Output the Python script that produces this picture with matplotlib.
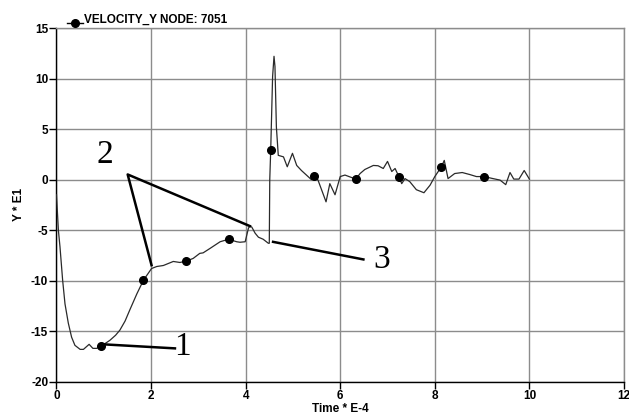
import numpy as np
import matplotlib
matplotlib.use("Agg")
import matplotlib.pyplot as plt
from matplotlib.lines import Line2D

# curva velocita' (tempo * E-4, velocita' * E1)
t = [0.0, 0.04, 0.074, 0.13, 0.18, 0.25, 0.32, 0.39, 0.50, 0.57, 0.69, 0.77, 0.85, 0.94,
     1.13, 1.25, 1.34, 1.45, 1.55, 1.70, 1.84, 2.01, 2.12, 2.26, 2.47, 2.61, 2.74,
     2.89, 3.03, 3.10, 3.25, 3.46, 3.64, 3.81, 3.88, 3.99, 4.06, 4.09, 4.13,
     4.20, 4.27, 4.37, 4.48, 4.50, 4.51, 4.53, 4.57, 4.60, 4.62, 4.65, 4.69,
     4.80, 4.88, 4.99, 5.08, 5.18, 5.32, 5.39, 5.45, 5.53, 5.70, 5.78, 5.89,
     6.00, 6.10, 6.33, 6.42, 6.52, 6.70, 6.80, 6.91, 7.00, 7.09, 7.16, 7.24,
     7.30, 7.37, 7.47, 7.61, 7.77, 7.90, 8.00, 8.14, 8.20, 8.28, 8.42, 8.58,
     8.74, 8.88, 9.04, 9.23, 9.38, 9.50, 9.59, 9.67, 9.78, 9.89, 10.0]
v = [-1.5, -5.0, -6.65, -9.95, -12.3, -14.2, -15.6, -16.4, -16.8, -16.8, -16.3, -16.7, -16.7, -16.5,
     -15.9, -15.4, -14.9, -14.0, -12.9, -11.3, -9.95, -8.8, -8.6, -8.5, -8.1, -8.2, -8.07,
     -7.8, -7.3, -7.25, -6.8, -6.15, -5.9, -6.15, -6.2, -6.15, -4.8, -4.6, -4.7,
     -5.3, -5.7, -5.9, -6.3, -6.3, 0.0, 2.9, 10.2, 12.2, 11.2, 5.2, 2.4,
     2.25, 1.27, 2.6, 1.4, 0.9, 0.3, 0.0, 0.4, -0.05, -2.2, -0.4, -1.5,
     0.3, 0.45, 0.05, 0.6, 1.0, 1.4, 1.37, 1.1, 1.8, 0.8, 1.1, 0.3,
     -0.4, 0.1, -0.2, -1.0, -1.3, -0.55, 0.3, 1.27, 1.9, 0.1, 0.6, 0.7,
     0.5, 0.3, 0.3, 0.1, -0.05, -0.5, 0.7, 0.05, 0.05, 0.9, 0.05]

# marcatori sulla curva
t_mark = [0.94, 1.84, 2.74, 3.64, 4.53, 5.45, 6.33, 7.24, 8.14, 9.04]
v_mark = [-16.5, -9.95, -8.07, -5.9, 2.9, 0.4, 0.05, 0.3, 1.27, 0.3]

# richiami numerati: (testo, posizione testo, segmenti)
lab_1 = "1"; pos_1 = (2.67, -16.55); seg_1 = [(0.99, -16.3), (2.505, -16.7)]
lab_2 = "2"; pos_2 = (1.025, 2.43)
seg_2 = [(2.01, -8.47), (1.505, 0.51), (4.09, -4.6)]
lab_3 = "3"; pos_3 = (6.87, -7.97); seg_3 = [(4.58, -6.16), (6.49, -7.9)]

xticks = [0, 2, 4, 6, 8, 10, 12]
yticks = [-20, -15, -10, -5, 0, 5, 10, 15]

plt.rcParams['font.family'] = ['Liberation Sans', 'DejaVu Sans']
plt.rcParams['axes.unicode_minus'] = False

fig = plt.figure(figsize=(6.29, 4.15), dpi=100)
ax = fig.add_axes([0.0898, 0.0802, 0.9022, 0.8523])

ax.plot(t, v, color="#2a2a2a", lw=0.9, zorder=3)
ax.plot(t_mark, v_mark, "o", color="black", ms=5.5, zorder=4)

ax.set_xlim(0, 12)
ax.set_ylim(-20, 15)
ax.set_xticks(xticks)
ax.set_yticks(yticks)
ax.grid(True, color="#8c8c8c", lw=1.0)
ax.set_axisbelow(True)
for s in ["top", "right"]:
	ax.spines[s].set_color("#8c8c8c")
	ax.spines[s].set_linewidth(1.0)
for s in ["left", "bottom"]:
	ax.spines[s].set_color("black")
	ax.spines[s].set_linewidth(1.0)
ax.tick_params(direction="out", length=5, width=1, labelsize=8.5, pad=1)
for lb in ax.get_xticklabels() + ax.get_yticklabels():
	lb.set_fontweight("bold")

ax.set_xlabel("Time * E-4", fontsize=8.5, fontweight="bold", labelpad=1)
ax.set_ylabel("Y * E1", fontsize=8.5, fontweight="bold", labelpad=4)

# richiami
for lab, pos, seg in [(lab_1, pos_1, seg_1), (lab_2, pos_2, seg_2), (lab_3, pos_3, seg_3)]:
	xs = [p[0] for p in seg]
	ys = [p[1] for p in seg]
	ax.plot(xs, ys, color="black", lw=1.8, zorder=5)
	ax.text(pos[0], pos[1], lab, fontsize=24, family="Liberation Serif",
		ha="center", va="center", zorder=5)

# legenda in alto
fig.add_artist(Line2D([66.7/629, 83/629], [1 - 23.3/415, 1 - 23.3/415],
	color="black", lw=1))
fig.add_artist(Line2D([75/629], [1 - 23.3/415], color="black",
	marker="o", ms=5.5, lw=0))
fig.text(83.5/629, 1 - 19.5/415, "VELOCITY_Y NODE: 7051", fontsize=8.5,
	fontweight="bold", ha="left", va="center")

fig.savefig("out.png", dpi=100)
